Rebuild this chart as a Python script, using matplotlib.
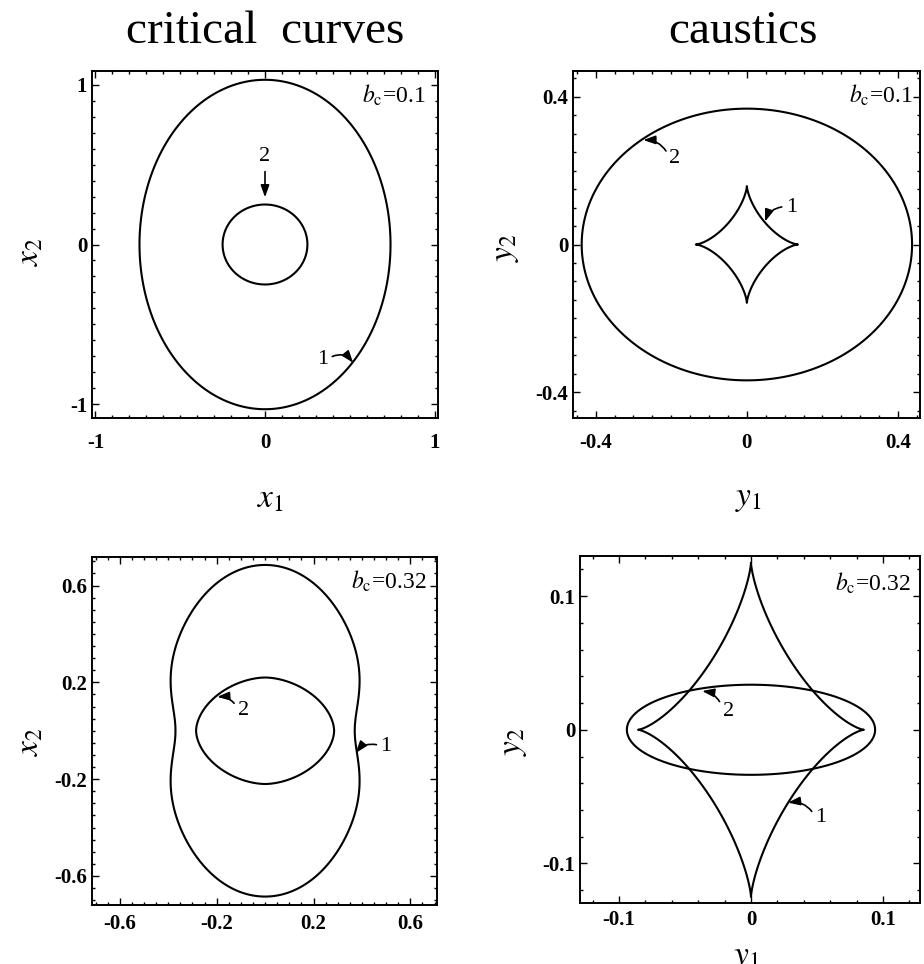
import numpy as np
import matplotlib
matplotlib.use("Agg")
import matplotlib.pyplot as plt
from matplotlib.ticker import FixedLocator, FixedFormatter, MultipleLocator

plt.rcParams['font.family'] = ['Liberation Serif', 'DejaVu Serif']
plt.rcParams['mathtext.fontset'] = 'stix'
plt.rcParams['axes.unicode_minus'] = False

W, H = 924, 964

# ---------------- data ----------------
column_titles = ["critical  curves", "caustics"]
bc_labels = [r"$b_{\mathrm{c}}$=0.1", r"$b_{\mathrm{c}}$=0.1",
             r"$b_{\mathrm{c}}$=0.32", r"$b_{\mathrm{c}}$=0.32"]

# b_c = 0.1, critical curves: curve 1 ellipse semi-axes, curve 2 circle radius
crit_01_curve1_axes = [0.74, 1.03]
crit_01_curve2_axes = [0.25, 0.25]

# b_c = 0.1, caustics: curve 1 astroid cusp distances + concavity, curve 2 ellipse
caus_01_curve1_cusps = [0.135, 0.158]
caus_01_curve1_power = 2.9
caus_01_curve2_axes = [0.437, 0.368]

# b_c = 0.32, critical curves: curve 1 radius vs polar angle (first quadrant)
crit_032_curve1_angles = [0, 10, 20, 30, 40, 50, 60, 70, 80, 90]
crit_032_curve1_radii = [0.368, 0.384, 0.411, 0.450, 0.492, 0.538, 0.585, 0.634, 0.672, 0.684]
crit_032_curve2_axes = [0.285, 0.22]
crit_032_curve2_power = 1.8

# b_c = 0.32, caustics
caus_032_curve1_cusps = [0.0855, 0.125]
caus_032_curve1_power = 2.78
caus_032_curve2_axes = [0.094, 0.0337]

# tick values / labels
ticks_p1 = [-1, 0, 1]
ticklabels_p1 = ["-1", "0", "1"]
ticks_p2 = [-0.4, 0, 0.4]
ticklabels_p2 = ["-0.4", "0", "0.4"]
ticks_p3 = [-0.6, -0.2, 0.2, 0.6]
ticklabels_p3 = ["-0.6", "-0.2", "0.2", "0.6"]
ticks_p4 = [-0.1, 0, 0.1]
ticklabels_p4 = ["-0.1", "0", "0.1"]

# curve labels: (text, label position, arrow tip, arc curvature)
ann_p1 = [("2", (0.0, 0.55), (0.0, 0.295), 0.0),
          ("1", (0.34, -0.72), (0.52, -0.74), -0.45)]
ann_p2 = [("2", (-0.19, 0.232), (-0.274, 0.283), 0.35),
          ("1", (0.118, 0.10), (0.048, 0.062), 0.35)]
ann_p3 = [("2", (-0.09, 0.085), (-0.198, 0.14), 0.35),
          ("1", (0.50, -0.066), (0.374, -0.092), 0.35)]
ann_p4 = [("2", (-0.017, 0.0135), (-0.037, 0.029), 0.35),
          ("1", (0.053, -0.066), (0.028, -0.0545), 0.35)]


# ---------------- curve helpers ----------------
T = np.linspace(0, 2 * np.pi, 1440, endpoint=False)


def ellipse(axes_ab):
    a, b = axes_ab
    return a * np.cos(T), b * np.sin(T)


def super_curve(axes_ab, power):
    a, b = axes_ab
    c, s = np.cos(T), np.sin(T)
    return (a * np.sign(c) * np.abs(c) ** power,
            b * np.sign(s) * np.abs(s) ** power)


def superellipse(axes_ab, p):
    return super_curve(axes_ab, 2.0 / p)


def polar_closed(angles_deg, radii, order=4):
    # smooth curve with the two mirror symmetries: r = sum c_k cos(2 k phi)
    phi = np.radians(np.asarray(angles_deg, dtype=float))
    basis = np.column_stack([np.cos(2 * k * phi) for k in range(order)])
    coef, *_ = np.linalg.lstsq(basis, np.asarray(radii, dtype=float), rcond=None)
    r = sum(c * np.cos(2 * k * T) for k, c in enumerate(coef))
    return r * np.cos(T), r * np.sin(T)


def outline(ax, xy):
    # closed outline without line caps
    ax.fill(xy[0], xy[1], fill=False, edgecolor="black", lw=1.5, joinstyle="round")


def px_to_fig(x, y):
    return x / W, 1 - y / H


def add_panel(fig, l, t, r, b):
    return fig.add_axes([l / W, 1 - b / H, (r - l) / W, (b - t) / H])


fig = plt.figure(figsize=(W / 100, H / 100), dpi=100)
fig.patch.set_facecolor("white")

ax1 = add_panel(fig, 92, 71, 438, 418)
ax2 = add_panel(fig, 573, 71, 920, 418)
ax3 = add_panel(fig, 92, 557, 437, 905)
ax4 = add_panel(fig, 580, 556, 920, 903)

# panel 1
outline(ax1, ellipse(crit_01_curve1_axes))
outline(ax1, ellipse(crit_01_curve2_axes))
ax1.set_xlim(-1.02, 1.02)
ax1.set_ylim(-1.085, 1.085)

# panel 2
outline(ax2, ellipse(caus_01_curve2_axes))
outline(ax2, super_curve(caus_01_curve1_cusps, caus_01_curve1_power))
ax2.set_xlim(-0.46, 0.458)
ax2.set_ylim(-0.47, 0.47)

# panel 3
outline(ax3, polar_closed(crit_032_curve1_angles, crit_032_curve1_radii))
outline(ax3, superellipse(crit_032_curve2_axes, crit_032_curve2_power))
ax3.set_xlim(-0.715, 0.71)
ax3.set_ylim(-0.72, 0.718)

# panel 4
outline(ax4, super_curve(caus_032_curve1_cusps, caus_032_curve1_power))
outline(ax4, ellipse(caus_032_curve2_axes))
ax4.set_xlim(-0.1295, 0.128)
ax4.set_ylim(-0.1296, 0.130)

panels = [
    (ax1, ticks_p1, ticklabels_p1, 0.1, 10.5, ann_p1),
    (ax2, ticks_p2, ticklabels_p2, 0.05, 10.5, ann_p2),
    (ax3, ticks_p3, ticklabels_p3, 0.05, 6.5, ann_p3),
    (ax4, ticks_p4, ticklabels_p4, 0.02, 5.0, ann_p4),
]

tick_font = dict(family="Liberation Serif", size=15, weight="bold")
arrow_style = "-|>,head_length=0.45,head_width=0.16"

for ax, tv, tl, minor, xpad, anns in panels:
    for axis in (ax.xaxis, ax.yaxis):
        axis.set_major_locator(FixedLocator(tv))
        axis.set_major_formatter(FixedFormatter(tl))
        axis.set_minor_locator(MultipleLocator(minor))
    ax.tick_params(which="both", direction="in", top=True, right=True,
                   color="black", width=1.0)
    ax.tick_params(which="major", length=5)
    ax.tick_params(which="minor", length=2.5)
    ax.tick_params(axis="x", pad=xpad)
    ax.tick_params(axis="y", pad=3.5)
    for lab in ax.get_xticklabels() + ax.get_yticklabels():
        lab.set_fontfamily(tick_font["family"])
        lab.set_fontsize(tick_font["size"])
        lab.set_fontweight(tick_font["weight"])
    for sp in ax.spines.values():
        sp.set_linewidth(1.4)
    for text, pos, tip, rad in anns:
        if rad == 0.0:
            ax.annotate(text, xy=tip, xytext=pos, ha="center", va="center",
                        fontsize=16,
                        arrowprops=dict(arrowstyle=arrow_style,
                                        color="black", lw=1.2, shrinkA=2, shrinkB=0))
        else:
            rel = (1.0, 0.55) if tip[0] > pos[0] else (0.0, 0.55)
            ax.annotate(text, xy=tip, xytext=pos, ha="center", va="center",
                        fontsize=16,
                        arrowprops=dict(arrowstyle=arrow_style,
                                        color="black", lw=1.2, shrinkA=1, shrinkB=0,
                                        relpos=rel,
                                        connectionstyle="arc3,rad=%s" % rad))

# b_c annotations (right-aligned, baseline in pixels)
bc_pos = [(426, 103), (913, 103), (427, 589), (911, 591)]
for txt, (x, y) in zip(bc_labels, bc_pos):
    fx, fy = px_to_fig(x, y)
    fig.text(fx, fy, txt, ha="right", va="baseline", fontsize=17)

# column titles
for txt, x in zip(column_titles, [265, 743]):
    fx, fy = px_to_fig(x, 43)
    fig.text(fx, fy, txt, ha="center", va="baseline", fontsize=34)

# axis labels
label_kw = dict(fontsize=24, ha="center", va="center")
for txt, (x, y) in [(r"$x_1$", (270, 499)), (r"$y_1$", (748, 499)),
                    (r"$y_1$", (746, 958))]:
    fx, fy = px_to_fig(x, y)
    fig.text(fx, fy, txt, **label_kw)
for txt, (x, y) in [(r"$x_2$", (30, 252)), (r"$y_2$", (506, 248)),
                    (r"$x_2$", (30, 742)), (r"$y_2$", (514, 742))]:
    fx, fy = px_to_fig(x, y)
    fig.text(fx, fy, txt, rotation=90, rotation_mode="anchor", **label_kw)

fig.savefig("out.png", dpi=100, facecolor="white")
